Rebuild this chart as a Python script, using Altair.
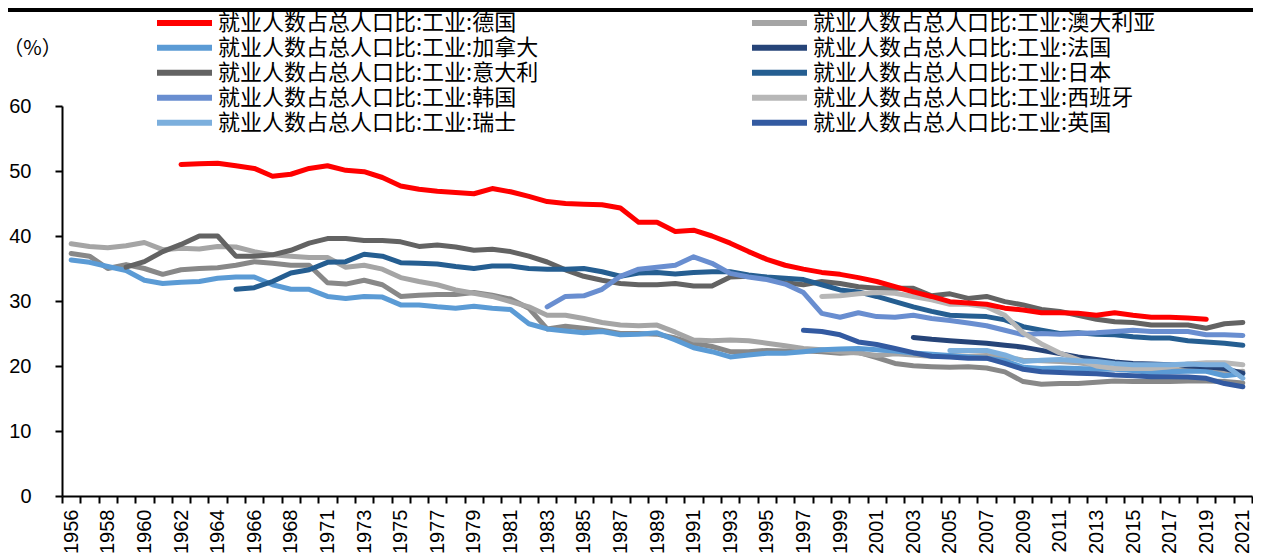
import altair as alt
import pandas as pd

# ---------------- data ----------------
years = [str(y) for y in range(1956, 1970)] + [str(y) for y in range(1971, 2022)]
label_years = years[::2]

prefix = "就业人数占总人口比:工业:"
# legend order: left column then right column
countries = ["德国", "加拿大", "意大利", "韩国", "瑞士", "澳大利亚", "法国", "日本", "西班牙", "英国"]
colors = ["#FF0000", "#5B9BD5", "#636363", "#698ED0", "#7CAFDD", "#A5A5A5", "#264478", "#255E91", "#B7B7B7", "#335AA1"]

germany_start = "1962"
germany = [51.0, 51.1, 51.2, 50.8, 50.4, 49.2, 49.5, 50.4,
           50.8, 50.1, 49.9, 49.0, 47.7, 47.2, 46.9, 46.7, 46.5, 47.3,
           46.8, 46.1, 45.3, 45.0, 44.9, 44.8, 44.3, 42.1, 42.1, 40.7,
           40.9, 40.0, 38.9, 37.6, 36.4, 35.5, 34.9, 34.4, 34.1, 33.6,
           33.0, 32.2, 31.4, 30.7, 29.9, 29.7, 29.5, 28.9, 28.6, 28.2,
           28.2, 28.1, 27.8, 28.2, 27.8, 27.5, 27.5, 27.4, 27.2]

australia_start = "1956"
australia = [38.8, 38.4, 38.2, 38.5, 39.0, 37.9, 38.1, 38.0, 38.4, 38.3, 37.6, 37.1, 36.9, 36.7,
             36.7, 35.2, 35.5, 34.9, 33.6, 33.0, 32.5, 31.7, 31.2, 30.7,
             29.9, 29.1, 27.8, 27.8, 27.3, 26.7, 26.3, 26.2, 26.3, 25.2,
             24.0, 23.9, 24.0, 23.9, 23.5, 23.1, 22.7, 22.5, 22.2, 22.0,
             21.6, 21.9, 21.7, 21.5, 21.6, 21.5, 21.6, 21.4, 20.9, 20.8,
             20.7, 20.5, 20.1, 19.6, 19.4, 19.2, 19.3, 19.4, 19.3, 19.0, 19.2]

canada_start = "1956"
canada = [36.3, 35.95, 35.3, 34.7, 33.2, 32.7, 32.9, 33.0, 33.5, 33.7, 33.7, 32.5, 31.8, 31.8,
          30.7, 30.4, 30.7, 30.6, 29.4, 29.4, 29.1, 28.9, 29.2, 28.9,
          28.7, 26.5, 25.7, 25.4, 25.1, 25.3, 24.8, 24.9, 25.1, 24.0,
          22.8, 22.2, 21.4, 21.7, 21.95, 21.95, 22.2, 22.5, 22.6, 22.7,
          22.5, 22.3, 22.0, 21.8, 21.6, 21.4, 21.2, 20.8, 19.8, 19.6,
          19.7, 19.6, 19.5, 19.5, 19.3, 19.0, 19.1, 19.2, 19.2, 18.5, 18.8]

france_start = "2003"
france = [24.4, 24.1, 23.9, 23.7, 23.5, 23.2, 22.9, 22.4, 21.9, 21.4,
          21.0, 20.6, 20.4, 20.3, 20.2, 20.0, 19.9, 19.6, 18.9]

italy_start = "1959"
italy = [35.2, 36.05, 37.6, 38.7, 40.0, 40.0, 36.9, 36.9, 37.1, 37.8, 38.9,
         39.6, 39.6, 39.3, 39.3, 39.1, 38.4, 38.6, 38.3, 37.8, 37.95,
         37.6, 36.9, 36.0, 34.8, 33.8, 33.2, 32.7, 32.5, 32.5, 32.7,
         32.3, 32.3, 33.7, 33.8, 33.5, 32.8, 32.5, 33.0, 32.7, 32.2,
         31.95, 31.95, 31.95, 30.8, 31.1, 30.4, 30.7, 29.9, 29.4, 28.7,
         28.4, 27.8, 27.2, 26.8, 26.7, 26.3, 26.3, 26.3, 25.8, 26.5, 26.7]

japan_start = "1965"
japan = [31.8, 32.05, 33.0, 34.3, 34.8,
         35.95, 36.05, 37.2, 36.9, 35.9, 35.8, 35.7, 35.3, 35.0, 35.4,
         35.4, 35.0, 34.9, 34.9, 35.0, 34.5, 33.8, 34.3, 34.4, 34.15,
         34.4, 34.5, 34.5, 34.0, 33.7, 33.5, 33.3, 32.5, 31.7, 31.4,
         30.7, 29.9, 29.1, 28.4, 27.8, 27.7, 27.6, 27.1, 26.05, 25.5,
         25.0, 25.1, 24.9, 24.8, 24.5, 24.3, 24.3, 23.9, 23.7, 23.5, 23.2]

korea_start = "1983"
korea = [29.1, 30.7, 30.8, 31.8, 33.8, 34.9, 35.2, 35.5, 36.8, 35.8,
         34.25, 33.7, 33.3, 32.6, 31.3, 28.1, 27.5, 28.2, 27.6, 27.5,
         27.8, 27.3, 27.0, 26.6, 26.2, 25.5, 24.8, 25.0, 24.9, 25.0,
         25.1, 25.3, 25.5, 25.3, 25.3, 25.3, 24.8, 24.8, 24.7]

spain_start = "1998"
spain = [30.7, 30.8, 31.1, 31.3, 31.2, 30.7, 30.2, 29.5, 29.5, 29.1,
         27.8, 25.1, 23.4, 22.0, 21.0, 20.0, 19.6, 19.6, 19.6, 19.9,
         20.3, 20.5, 20.5, 20.2]

swiss_start = "2005"
swiss = [22.4, 22.4, 22.4, 21.7, 20.7, 20.9, 21.0, 20.8, 20.7, 20.4,
         20.2, 20.2, 20.2, 20.3, 20.2, 20.2, 18.1]

uk_start = "1997"
uk = [25.5, 25.3, 24.8, 23.7, 23.3, 22.7, 22.05, 21.5, 21.4, 21.2,
      21.2, 20.4, 19.5, 19.1, 19.0, 18.9, 18.8, 18.6, 18.5, 18.35,
      18.35, 18.3, 18.1, 17.3, 16.8]

# an extra grey series drawn in the chart without a legend entry
grey_start = "1956"
grey = [37.3, 36.9, 35.0, 35.6, 35.0, 34.1, 34.8, 35.0, 35.1, 35.5, 36.05, 35.8, 35.5, 35.5,
        32.8, 32.6, 33.2, 32.5, 30.7, 30.9, 31.0, 31.0, 31.3, 30.9,
        30.3, 28.9, 25.7, 26.1, 25.8, 25.5, 25.0, 25.0, 24.9, 24.3,
        23.5, 23.0, 22.2, 22.2, 22.4, 22.3, 22.35, 22.2, 21.95, 22.1,
        21.3, 20.4, 20.05, 19.9, 19.8, 19.9, 19.7, 19.1, 17.6, 17.2,
        17.3, 17.3, 17.5, 17.7, 17.6, 17.6, 17.6, 17.7, 17.7, 17.6, 17.4]

series = {
    "澳大利亚": (australia_start, australia),
    "加拿大": (canada_start, canada),
    "法国": (france_start, france),
    "意大利": (italy_start, italy),
    "日本": (japan_start, japan),
    "韩国": (korea_start, korea),
    "西班牙": (spain_start, spain),
    "瑞士": (swiss_start, swiss),
    "英国": (uk_start, uk),
    "德国": (germany_start, germany),   # last so it is drawn on top
}

rows = []
for name, (st, vals) in series.items():
    i0 = years.index(st)
    for k, v in enumerate(vals):
        rows.append({"year": years[i0 + k], "value": v, "series": prefix + name})
df = pd.DataFrame(rows)

i0 = years.index(grey_start)
df_grey = pd.DataFrame({"year": years[i0:i0 + len(grey)], "value": grey})

# ---------------- chart ----------------
W, H = 1190, 390
num_font = "Liberation Sans"
cjk_font = "Noto Sans CJK SC"

label_list = "[" + ",".join("'" + y + "'" for y in label_years) + "]"

x_enc = alt.X(
    "year:O",
    sort=years,
    scale=alt.Scale(type="band", domain=years, paddingInner=0, paddingOuter=0),
    bandPosition=0.5,
    axis=alt.Axis(
        title=None,
        labelAngle=270,
        labelExpr=f"indexof({label_list}, datum.value) >= 0 ? datum.value : ''",
        labelOverlap=False,
        tickBand="extent",
        tickSize=7,
        tickWidth=2,
        tickColor="black",
        domainColor="black",
        domainWidth=2,
        labelFont=num_font,
        labelFontSize=20,
        labelColor="black",
        labelPadding=6,
    ),
)

y_enc = alt.Y(
    "value:Q",
    scale=alt.Scale(domain=[0, 60], nice=False, zero=True),
    axis=alt.Axis(
        values=[0, 10, 20, 30, 40, 50, 60],
        grid=False,
        title="（%）",
        titleAngle=0,
        titleX=-30,
        titleY=-58,
        titleAlign="center",
        titleBaseline="middle",
        titleFont=cjk_font,
        titleFontSize=20,
        titleFontWeight="normal",
        titleColor="black",
        tickSize=7,
        tickWidth=2,
        tickColor="black",
        domainColor="black",
        domainWidth=2,
        labelFont=num_font,
        labelFontSize=20,
        labelColor="black",
        labelPadding=24,
    ),
)

domain_labels = [prefix + c for c in countries]

lines = alt.Chart(df).mark_line(strokeWidth=5, strokeCap="round", strokeJoin="round").encode(
    x=x_enc,
    y=y_enc,
    color=alt.Color(
        "series:N",
        scale=alt.Scale(domain=domain_labels, range=colors),
        legend=alt.Legend(
            title=None,
            orient="none",
            legendX=92,
            legendY=-95.5,
            columns=2,
            columnPadding=210,
            rowPadding=0,
            clipHeight=24.5,
            symbolType="stroke",
            symbolSize=3025,
            symbolStrokeWidth=6,
            labelFont=cjk_font,
            labelFontSize=22,
            labelColor="black",
            labelOffset=3,
            labelLimit=1000,
            padding=0,
            symbolLimit=0,
        ),
    ),
)

grey_line = alt.Chart(df_grey).mark_line(
    strokeWidth=5, strokeCap="round", strokeJoin="round", color="#888888"
).encode(x=x_enc, y=y_enc)

top_rule = alt.Chart(pd.DataFrame({"k": [0]})).mark_rule(color="black", strokeWidth=4).encode(
    x=alt.value(-54), x2=alt.value(W + 1), y=alt.value(-96)
)

chart = (
    alt.layer(grey_line, lines, top_rule)
    .properties(
        width=W,
        height=H,
        autosize=alt.AutoSizeParams(type="none"),
        padding={"left": 54, "top": 98, "right": 1, "bottom": 58},
        background="white",
    )
    .configure_view(stroke=None)
)

chart.save("out.html", embed_options={"renderer": "svg", "actions": False})
